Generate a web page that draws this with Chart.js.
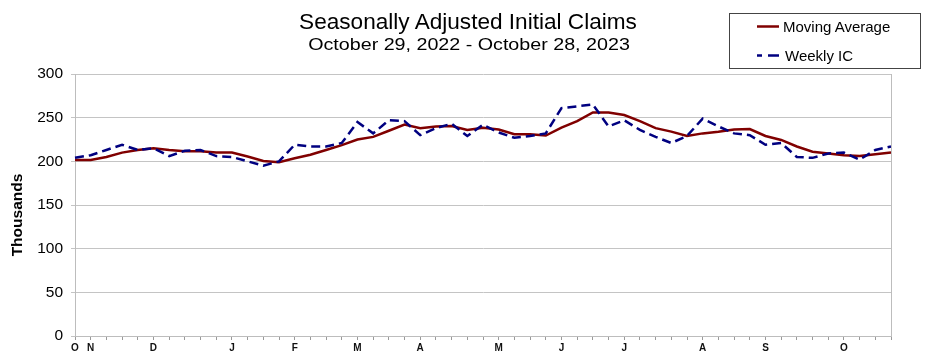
<!DOCTYPE html>
<html>
<head>
<meta charset="utf-8">
<script src="https://cdn.jsdelivr.net/npm/chart.js@4/dist/chart.umd.min.js"></script>
<style>
  html, body { margin: 0; padding: 0; background: #fff; }
  #wrap { position: relative; width: 925px; height: 356px; overflow: hidden; font-family: "Liberation Sans", Arial, sans-serif; color: #000; }
  #c { position: absolute; left: 0; top: 0; }
  .t { position: absolute; white-space: nowrap; text-align: center; }
  #title { left: 0; width: 936px; top: 11.3px; font-size: 22.6px; line-height: 22.6px; }
  #subtitle { left: 0; width: 938px; top: 36.5px; font-size: 16px; line-height: 16px; transform: scaleX(1.23); transform-origin: 469px 50%; }
  #ytitle { left: -83px; width: 200px; top: 205px; height: 20px; line-height: 20px; font-size: 15.5px; font-weight: bold; transform: rotate(-90deg); }
  #legend { position: absolute; left: 729px; top: 13px; width: 190px; height: 54px; border: 1.5px solid #444; background: #fff; }
  .lrow { position: absolute; left: 0; font-size: 15px; line-height: 15px; white-space: nowrap; }
  .lrow svg { position: absolute; left: 27px; top: 0; }
  .lrow span { position: absolute; }
</style>
</head>
<body>
<div id="wrap">
  <canvas id="c" width="925" height="356"></canvas>
  <div id="title" class="t">Seasonally Adjusted Initial Claims</div>
  <div id="subtitle" class="t">October 29, 2022 - October 28, 2023</div>
  <div id="ytitle" class="t">Thousands</div>
  <div id="legend">
    <div class="lrow" style="top:5px">
      <svg width="24" height="16"><line x1="0" y1="7.5" x2="22" y2="7.5" stroke="#800000" stroke-width="2.5"/></svg>
      <span style="left:53px;top:0">Moving Average</span>
    </div>
    <div class="lrow" style="top:33.5px">
      <svg width="24" height="16"><line x1="0" y1="7.5" x2="22" y2="7.5" stroke="#000080" stroke-width="2.5" stroke-dasharray="5,6,11,10"/></svg>
      <span style="left:55px;top:0">Weekly IC</span>
    </div>
  </div>
</div>
<script>
// Week-ending dates (Saturdays), Oct 29 2022 - Oct 28 2023
const weeks = [
  "2022-10-29","2022-11-05","2022-11-12","2022-11-19","2022-11-26","2022-12-03","2022-12-10","2022-12-17","2022-12-24","2022-12-31",
  "2023-01-07","2023-01-14","2023-01-21","2023-01-28","2023-02-04","2023-02-11","2023-02-18","2023-02-25","2023-03-04","2023-03-11",
  "2023-03-18","2023-03-25","2023-04-01","2023-04-08","2023-04-15","2023-04-22","2023-04-29","2023-05-06","2023-05-13","2023-05-20",
  "2023-05-27","2023-06-03","2023-06-10","2023-06-17","2023-06-24","2023-07-01","2023-07-08","2023-07-15","2023-07-22","2023-07-29",
  "2023-08-05","2023-08-12","2023-08-19","2023-08-26","2023-09-02","2023-09-09","2023-09-16","2023-09-23","2023-09-30","2023-10-07",
  "2023-10-14","2023-10-21","2023-10-28"
];
// Month letter shown under the first week of each month
const tickLabels = [
  "O","N","","","","D","","","","",
  "J","","","","F","","","","M","",
  "","","A","","","","","M","","",
  "","J","","","","J","","","","",
  "A","","","","S","","","","","O",
  "","",""
];
// Thousands
const weeklyIC = [
  204,207,213,219,213,215,206,212,213,206,
  205,200,195,200,219,217,217,221,245,232,
  247,246,230,238,243,229,242,233,227,229,
  232,261,263,265,240,247,236,228,221,229,
  249,240,232,230,219,221,205,204,209,210,
  202,213,217
];
const movingAvg = [
  201.5,201.5,205,210,213,215,213,211.5,211.5,210,
  210,205.5,200.5,199,203.5,207.5,213,218.5,225,228,
  235,242,238,240,240.5,236,238.5,236.5,231,231,
  229.5,238.5,246,256,256,253,246,238,234,229,
  232,234,236.5,237,229,224.5,217,211,209,207,
  206,208,210
];
const yTicks = [0, 50, 100, 150, 200, 250, 300];

const frame = {
  id: 'frame',
  afterDraw(chart) {
    const {ctx, chartArea: a} = chart;
    ctx.save();
    ctx.strokeStyle = '#bdbdbd';
    ctx.lineWidth = 1;
    ctx.beginPath();
    ctx.moveTo(Math.round(a.right) + 0.5, a.top);
    ctx.lineTo(Math.round(a.right) + 0.5, a.bottom);
    ctx.stroke();
    ctx.restore();
  }
};

new Chart(document.getElementById('c'), {
  type: 'line',
  data: {
    labels: weeks,
    datasets: [
      {
        label: 'Weekly IC',
        data: weeklyIC,
        borderColor: '#000080',
        borderWidth: 2.5,
        borderDash: [9, 5],
        pointRadius: 0,
        tension: 0,
        fill: false
      },
      {
        label: 'Moving Average',
        data: movingAvg,
        borderColor: '#800000',
        borderWidth: 2.5,
        pointRadius: 0,
        tension: 0,
        fill: false
      }
    ]
  },
  options: {
    responsive: false,
    animation: false,
    events: [],
    layout: { padding: { top: 74, right: 34, left: 0, bottom: 0 } },
    plugins: { legend: { display: false }, title: { display: false }, tooltip: { enabled: false } },
    scales: {
      x: {
        type: 'category',
        offset: false,
        afterFit(s) { s.height = 20; },
        grid: { drawOnChartArea: false, drawTicks: true, tickLength: 4, color: '#9a9a9a' },
        border: { color: '#bdbdbd' },
        ticks: {
          autoSkip: false, maxRotation: 0, minRotation: 0, padding: 2,
          color: '#111',
          font: { family: 'Liberation Sans', size: 10, weight: 'bold' },
          callback: (v, i) => tickLabels[i]
        }
      },
      y: {
        min: 0, max: 300,
        afterFit(s) { s.width = 75; },
        afterBuildTicks(s) { s.ticks = yTicks.map(v => ({ value: v })); },
        grid: { color: '#c4c4c4', tickLength: 4, lineWidth: 1 },
        border: { color: '#bdbdbd' },
        ticks: {
          padding: 8, color: '#000',
          font: { family: 'Liberation Sans', size: 15.5 }
        }
      }
    }
  },
  plugins: [frame]
});
</script>
</body>
</html>
